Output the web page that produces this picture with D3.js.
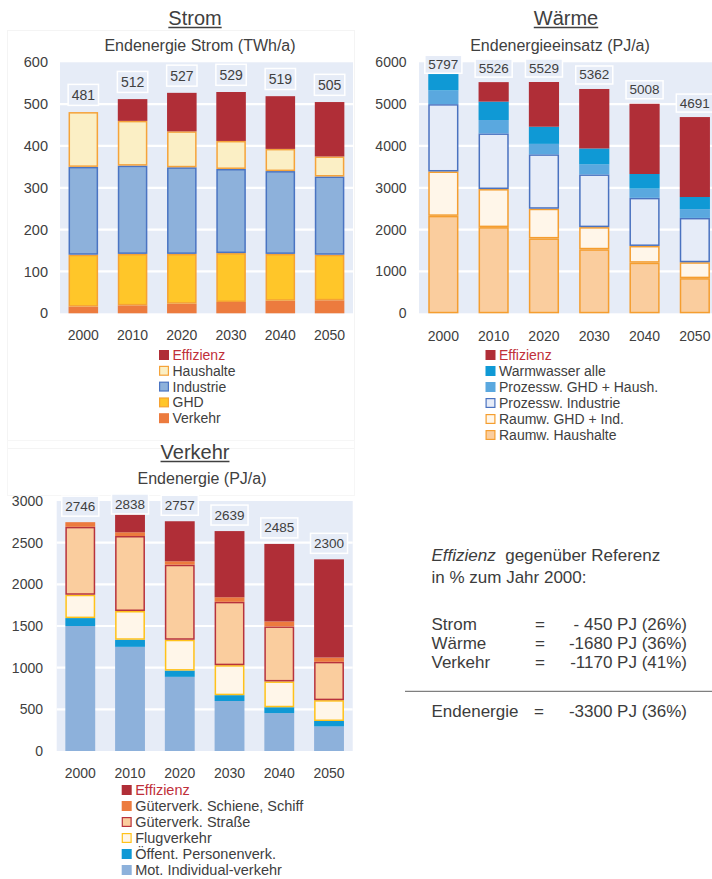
<!DOCTYPE html>
<html><head><meta charset="utf-8">
<script src="https://cdn.jsdelivr.net/npm/d3@7"></script>
<style>
body{margin:0;background:#fff}
svg{display:block;font-family:"Liberation Sans",Arial,sans-serif}
</style>
</head><body>
<svg id="c" width="712" height="879"></svg>
<script>
const years = ["2000","2010","2020","2030","2040","2050"];

// ---- Strom: Endenergie Strom (TWh/a)
const stromVerkehr   = [16, 19, 23, 27, 30, 31];
const stromGHD       = [124, 123, 119, 117, 112, 109];
const stromIndustrie = [210, 211, 207, 201, 198, 187];
const stromHaushalte = [131, 107, 86, 67, 53, 48];
const stromEffizienz = [0, 52, 92, 117, 126, 130];
const stromTotals    = [481, 512, 527, 529, 519, 505];
const stromTicks     = [0, 100, 200, 300, 400, 500, 600];

// ---- Wärme: Endenergieeinsatz (PJ/a)
const waermeRaumHaushalte   = [2330, 2060, 1790, 1530, 1210, 840];
const waermeRaumGHDInd      = [1060, 910, 710, 530, 400, 380];
const waermeProzessInd      = [1610, 1330, 1300, 1260, 1150, 1060];
const waermeProzessGHDHaush = [330, 320, 250, 240, 220, 210];
const waermeWarmwasser      = [467, 440, 410, 380, 350, 290];
const waermeEffizienz       = [0, 466, 1069, 1422, 1678, 1911];
const waermeTotals          = [5797, 5526, 5529, 5362, 5008, 4691];
const waermeTicks           = [0, 1000, 2000, 3000, 4000, 5000, 6000];

// ---- Verkehr: Endenergie (PJ/a)
const verkehrMIV        = [1500, 1250, 890, 600, 455, 295];
const verkehrOEPV       = [95, 85, 75, 70, 70, 65];
const verkehrFlug       = [280, 345, 370, 360, 310, 250];
const verkehrGueterStr  = [815, 900, 900, 760, 660, 460];
const verkehrGueterSch  = [56, 45, 42, 55, 60, 52];
const verkehrEffizienz  = [0, 213, 480, 794, 930, 1178];
const verkehrTotals     = [2746, 2838, 2757, 2639, 2485, 2300];
const verkehrTicks      = [0, 500, 1000, 1500, 2000, 2500, 3000];

// ---- Textbox
const summaryLabels = ["Strom", "Wärme", "Verkehr"];
const summaryValues = ["- 450 PJ (26%)", "-1680 PJ (36%)", "-1170 PJ (41%)"];
const summaryTotalLabel = "Endenergie";
const summaryTotalValue = "-3300 PJ (36%)";

const BG = "#E6ECF7", TXT = "#404040", RED = "#B02E37", REDTXT = "#C0303A";
const svg = d3.select("#c");

function drawChart(o) {
  const g = svg.append("g");
  const table = years.map((y, i) => {
    const r = {year: y};
    o.layers.forEach(l => r[l.name] = l.values[i]);
    return r;
  });
  const stack = d3.stack().keys(o.layers.map(l => l.name))(table);
  const x = d3.scaleBand().domain(years).range(o.xRange).paddingInner(0.4).paddingOuter(0.2);
  const y = d3.scaleLinear().domain([0, o.max]).range(o.yRange);

  g.append("rect").attr("x", o.bgX[0]).attr("y", y(o.max))
    .attr("width", o.bgX[1] - o.bgX[0]).attr("height", y(0) - y(o.max)).attr("fill", BG);
  g.selectAll(".grid").data(o.ticks.filter(t => t > 0 && t < o.max)).join("line")
    .attr("x1", o.bgX[0]).attr("x2", o.bgX[1]).attr("y1", d => y(d)).attr("y2", d => y(d))
    .attr("stroke", "#fff").attr("stroke-width", 2.2);

  const ya = d3.axisLeft(y).tickValues(o.ticks).tickFormat(d3.format("d")).tickSize(0).tickPadding(0);
  const yg = g.append("g").attr("transform", `translate(${o.yLabelX},0)`).call(ya);
  yg.select(".domain").remove();
  yg.selectAll("text").attr("font-size", o.tickFont).attr("fill", TXT).attr("font-family", "Liberation Sans, Arial, sans-serif");

  const xa = d3.axisBottom(x).tickSize(0).tickPadding(0);
  const xg = g.append("g").attr("transform", `translate(0,${o.xLabelY})`).call(xa);
  xg.select(".domain").remove();
  xg.selectAll("text").attr("font-size", 14).attr("fill", TXT).attr("dy", "0").attr("font-family", "Liberation Sans, Arial, sans-serif");

  stack.forEach((s, li) => {
    const L = o.layers[li];
    const sw = L.stroke ? 1.5 : 0;
    g.append("g").selectAll("rect").data(s).join("rect")
      .attr("x", d => x(d.data.year) + sw / 2)
      .attr("width", x.bandwidth() - sw)
      .attr("y", d => y(d[1]) + sw / 2)
      .attr("height", d => Math.max(0, y(d[0]) - y(d[1]) - sw))
      .attr("fill", L.fill)
      .attr("stroke", L.stroke || "none")
      .attr("stroke-width", sw)
      .attr("display", d => (d[1] - d[0]) > 0 ? null : "none");
  });

  const top = stack[stack.length - 1];
  const lg = g.append("g");
  top.forEach((d, i) => {
    const cx = x(d.data.year) + x.bandwidth() / 2;
    let bottom = y(d[1]) - o.labelGap;
    let boxTop = bottom - o.labelH;
    const minTop = y(o.max) - 7;
    if (boxTop < minTop) { boxTop = minTop; }
    const t = lg.append("text").attr("x", cx).attr("y", boxTop + o.labelH / 2)
      .attr("text-anchor", "middle").attr("dominant-baseline", "central")
      .attr("font-size", o.labelFont).attr("fill", TXT).text(o.totals[i]);
    const w = t.node().getComputedTextLength() + 7;
    lg.insert("rect", "text").attr("x", cx - w / 2).attr("y", boxTop).attr("width", w).attr("height", o.labelH)
      .attr("fill", BG).attr("stroke", "#fff").attr("stroke-width", 1.5);
  });

  const tt = g.append("text").attr("x", o.title.x).attr("y", o.title.y).attr("text-anchor", "middle")
    .attr("font-size", 20).attr("fill", TXT).text(o.title.text);
  const tw = tt.node().getComputedTextLength();
  g.append("line").attr("x1", o.title.x - tw / 2).attr("x2", o.title.x + tw / 2)
    .attr("y1", o.title.y + 2.5).attr("y2", o.title.y + 2.5).attr("stroke", TXT).attr("stroke-width", 1.3);
  g.append("text").attr("x", o.sub.x).attr("y", o.sub.y).attr("text-anchor", "middle")
    .attr("font-size", 16).attr("fill", TXT).text(o.sub.text);

  const leg = [...o.layers].reverse();
  leg.forEach((l, i) => {
    const cy = o.legend.y + i * o.legend.dy;
    g.append("rect").attr("x", o.legend.x + (l.stroke ? 0.6 : 0)).attr("y", cy - 5 + (l.stroke ? 0.6 : 0))
      .attr("width", l.stroke ? 8.8 : 10).attr("height", l.stroke ? 8.8 : 10)
      .attr("fill", l.fill).attr("stroke", l.stroke || "none").attr("stroke-width", l.stroke ? 1.2 : 0);
    g.append("text").attr("x", o.legend.x + 13.5).attr("y", cy).attr("dominant-baseline", "central")
      .attr("font-size", o.legend.font).attr("fill", l.name === "Effizienz" ? REDTXT : TXT).text(l.name);
  });
}

// faint panel frames
svg.append("rect").attr("x", 7.5).attr("y", 30.5).attr("width", 347).attr("height", 418)
  .attr("fill", "none").attr("stroke", "#F4F4F4");
svg.append("rect").attr("x", 7.5).attr("y", 440.5).attr("width", 347).attr("height", 55)
  .attr("fill", "none").attr("stroke", "#F6F6F6");

drawChart({
  layers: [
    {name: "Verkehr", values: stromVerkehr, fill: "#EC7B3E"},
    {name: "GHD", values: stromGHD, fill: "#FFC629", stroke: "#F5A233"},
    {name: "Industrie", values: stromIndustrie, fill: "#8DB1DB", stroke: "#4A74C2"},
    {name: "Haushalte", values: stromHaushalte, fill: "#FBEFC5", stroke: "#F5A33A"},
    {name: "Effizienz", values: stromEffizienz, fill: RED}
  ],
  totals: stromTotals, ticks: stromTicks, max: 600,
  xRange: [58.7, 354.2], bgX: [60, 353], yRange: [313.3, 62.3],
  yLabelX: 48, tickFont: 14.5, xLabelY: 340,
  labelGap: 6.7, labelH: 21, labelFont: 14,
  title: {text: "Strom", x: 195, y: 25},
  sub: {text: "Endenergie Strom (TWh/a)", x: 200, y: 51},
  legend: {x: 159, y: 355, dy: 15.8, font: 14}
});

drawChart({
  layers: [
    {name: "Raumw. Haushalte", values: waermeRaumHaushalte, fill: "#FACD9E", stroke: "#F59E2F"},
    {name: "Raumw. GHD + Ind.", values: waermeRaumGHDInd, fill: "#FFF6E9", stroke: "#F59E2F"},
    {name: "Prozessw. Industrie", values: waermeProzessInd, fill: "#E6ECF8", stroke: "#4A72C0"},
    {name: "Prozessw. GHD + Haush.", values: waermeProzessGHDHaush, fill: "#5AA8DF"},
    {name: "Warmwasser alle", values: waermeWarmwasser, fill: "#0F99D5"},
    {name: "Effizienz", values: waermeEffizienz, fill: RED}
  ],
  totals: waermeTotals, ticks: waermeTicks, max: 6000,
  xRange: [418.2, 720], bgX: [419, 712], yRange: [313.3, 62.3],
  yLabelX: 406.5, tickFont: 14, xLabelY: 341,
  labelGap: 5, labelH: 18, labelFont: 13.5,
  title: {text: "Wärme", x: 566, y: 25},
  sub: {text: "Endenergieeinsatz (PJ/a)", x: 560, y: 51},
  legend: {x: 485.5, y: 355, dy: 16, font: 14}
});

drawChart({
  layers: [
    {name: "Mot. Individual-verkehr", values: verkehrMIV, fill: "#8DB1DB"},
    {name: "Öffent. Personenverk.", values: verkehrOEPV, fill: "#0F99D5"},
    {name: "Flugverkehr", values: verkehrFlug, fill: "#FFF6E9", stroke: "#FFC21A"},
    {name: "Güterverk. Straße", values: verkehrGueterStr, fill: "#FACD9E", stroke: "#B8323C"},
    {name: "Güterverk. Schiene, Schiff", values: verkehrGueterSch, fill: "#EC7B3E"},
    {name: "Effizienz", values: verkehrEffizienz, fill: RED}
  ],
  totals: verkehrTotals, ticks: verkehrTicks, max: 3000,
  xRange: [55.4, 353.9], bgX: [56.7, 352.7], yRange: [751, 501],
  yLabelX: 43, tickFont: 14, xLabelY: 778,
  labelGap: 6, labelH: 20, labelFont: 13.5,
  title: {text: "Verkehr", x: 195, y: 459},
  sub: {text: "Endenergie (PJ/a)", x: 202, y: 484},
  legend: {x: 121.7, y: 790, dy: 16, font: 14.5}
});

const sb = svg.append("g").attr("font-size", 17).attr("fill", "#3C3C3C");
const h = sb.append("text").attr("x", 431.5).attr("y", 561);
h.append("tspan").attr("font-style", "italic").text("Effizienz");
h.append("tspan").text("\u00A0 gegenüber Referenz");
sb.append("text").attr("x", 431.5).attr("y", 583).text("in % zum Jahr 2000:");
summaryLabels.forEach((l, i) => {
  const yy = 629.5 + i * 19.2;
  sb.append("text").attr("x", 431.5).attr("y", yy).text(l);
  sb.append("text").attr("x", 540).attr("y", yy).attr("text-anchor", "middle").text("=");
  sb.append("text").attr("x", 687).attr("y", yy).attr("text-anchor", "end").text(summaryValues[i]);
});
svg.append("line").attr("x1", 405).attr("x2", 712).attr("y1", 691.3).attr("y2", 691.3)
  .attr("stroke", "#7F7F7F").attr("stroke-width", 1.3);
sb.append("text").attr("x", 431.5).attr("y", 717).text(summaryTotalLabel);
sb.append("text").attr("x", 539).attr("y", 717).attr("text-anchor", "middle").text("=");
sb.append("text").attr("x", 687).attr("y", 717).attr("text-anchor", "end").text(summaryTotalValue);
</script>
</body></html>
